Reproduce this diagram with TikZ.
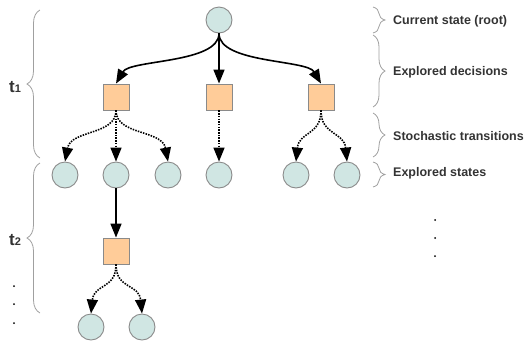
\documentclass[tikz,border=0pt]{standalone}
\usepackage{fontspec}
\setmainfont{Liberation Sans}
\usetikzlibrary{arrows.meta,decorations.pathreplacing}
\definecolor{stfill}{HTML}{D0E6E3}
\definecolor{stline}{HTML}{8A8A8A}
\definecolor{dcfill}{HTML}{FFCC99}
\definecolor{txt}{HTML}{333333}
\definecolor{brc}{HTML}{A0A0A0}
\begin{document}
\begin{tikzpicture}[x=1pt,y=-1pt,
 state/.style={circle,draw=stline,fill=stfill,line width=0.9pt,minimum size=26pt,inner sep=0pt},
 decis/.style={rectangle,draw=stline,fill=dcfill,line width=0.9pt,minimum size=26pt,inner sep=0pt},
 arr/.style={line width=1.6pt,-{Triangle[length=14pt,width=11pt]}},
 sto/.style={arr,dash pattern=on 1.5pt off 1.2pt},
 lbl/.style={anchor=west,text=txt,font=\fontsize{12.5}{14}\selectfont\bfseries,inner sep=0pt},
 tlbl/.style={text=txt,inner sep=0pt,font=\bfseries},
 bracel/.style={draw=brc,line width=0.8pt,decorate,decoration={brace,amplitude=13pt}},
 bracer/.style={draw=brc,line width=0.8pt,decorate,decoration={brace,amplitude=12pt}},
 dotn/.style={circle,fill=black,inner sep=0pt,minimum size=2pt}]
\useasboundingbox (0,0) rectangle (526,341);
% nodes
\node[state] (root) at (219,20) {};
\node[decis] (d1) at (116,97) {};
\node[decis] (d2) at (219,97) {};
\node[decis] (d3) at (321,97) {};
\node[state] (s1) at (65,175) {};
\node[state] (s2) at (116,175) {};
\node[state] (s3) at (168,175) {};
\node[state] (s4) at (219,175) {};
\node[state] (s5) at (296,175) {};
\node[state] (s6) at (347,175) {};
\node[decis] (d4) at (116,251) {};
\node[state] (s7) at (91,327) {};
\node[state] (s8) at (142,327) {};
% decisions
\draw[arr] (root.south) .. controls +(0,30) and +(14,-24) .. (d1.north);
\draw[arr] (root.south) -- (d2.north);
\draw[arr] (root.south) .. controls +(0,30) and +(-14,-24) .. (d3.north);
\draw[arr] (s2.south) -- (d4.north);
% stochastic
\draw[sto] (d1.south) .. controls +(0,25) and +(6,-32) .. (s1.north);
\draw[sto] (d1.south) -- (s2.north);
\draw[sto] (d1.south) .. controls +(0,25) and +(-6,-32) .. (s3.north);
\draw[sto] (d2.south) -- (s4.north);
\draw[sto] (d3.south) .. controls +(0,25) and +(3,-30) .. (s5.north);
\draw[sto] (d3.south) .. controls +(0,25) and +(-3,-30) .. (s6.north);
\draw[sto] (d4.south) .. controls +(0,25) and +(3,-30) .. (s7.north);
\draw[sto] (d4.south) .. controls +(0,25) and +(-3,-30) .. (s8.north);
% right braces and labels
\draw[bracer] (373,7) -- (373,33);
\draw[bracer] (373,35) -- (373,107);
\draw[bracer] (373,113) -- (373,157);
\draw[bracer] (373,162) -- (373,187);
\node[lbl] (l1) at (393,21) {Current state (root)};
\node[lbl] (l2) at (393,72) {Explored decisions};
\node[lbl] (l3) at (393,136) {Stochastic transitions};
\node[lbl] (l4) at (393,173) {Explored states};
% left braces and labels
\draw[bracel] (40,158) -- (40,10);
\draw[bracel] (40,313) -- (40,163);
\node[tlbl] (t1) at (15,87) {\fontsize{17}{17}\selectfont t\fontsize{11}{11}\selectfont 1};
\node[tlbl] (t2) at (15,240) {\fontsize{17}{17}\selectfont t\fontsize{11}{11}\selectfont 2};
% dots
\node[dotn] (ld1) at (14,286) {};
\node[dotn] (ld2) at (14,304) {};
\node[dotn] (ld3) at (14,323) {};
\node[dotn] (rd1) at (435,220) {};
\node[dotn] (rd2) at (435,238) {};
\node[dotn] (rd3) at (435,256) {};
\end{tikzpicture}
\end{document}
